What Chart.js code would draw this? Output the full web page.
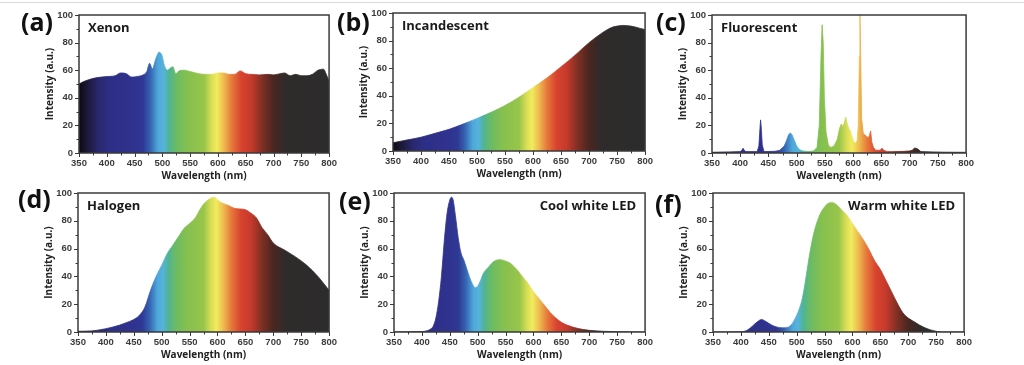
<!DOCTYPE html>
<html>
<head>
<meta charset="utf-8">
<script src="https://cdn.jsdelivr.net/npm/chart.js@4.4.1/dist/chart.umd.min.js"></script>
<style>
  body { margin: 0; background: #fff; width: 1024px; height: 365px; overflow: hidden; position: relative; }
  .topline { position: absolute; left: 0; top: 2px; width: 1024px; height: 1px; background: #d9d9d9; }
  .panel { position: absolute; }
  .letter { position: absolute; font: bold 25px "Open Sans", sans-serif; line-height: 1; color: #111; }
</style>
</head>
<body>
<div class="topline"></div>

<script>
// wavelengths (nm) and intensities (a.u.)
const xenonNm = [350,360,375,390,400,415,425,435,445,455,465,472,477,482,488,494,499,504,509,514,519,524,530,540,550,560,575,590,600,610,620,630,640,650,660,675,690,700,710,720,730,740,750,760,770,780,790,795,800];
const xenonVal = [50,52,54,55,55.4,56,58,57.5,55,55.5,56.5,59,65,61,68,73,71,63,60,61.5,62.5,57.5,59.5,60,59,58,57,57,58,58,57,57,59.5,57.5,57,56.6,57,56.6,57.3,58,56,57,56,56,57,60,60.7,57,52];

const incandNm = [350,375,400,425,450,475,500,525,550,575,600,625,650,675,700,725,740,750,760,775,790,800];
const incandVal = [6,8,10,12.8,15.7,19.5,23.6,28,33,39,46,53,61,69.4,78.5,86,89.5,90.5,91,90.5,89,88];

const fluorNm = [350,380,400,403,405,407,410,430,433,435,436,437,439,442,460,465,470,478,482,486,489,492,496,500,505,510,520,530,536,540,543,545,547,549,552,556,560,566,572,576,579,582,585,587,589,592,595,598,601,604,607,609,611,612,613,615,618,621,624,627,629,631,633,636,640,648,651,654,660,670,690,700,705,708,711,714,720,740,760,800];
const fluorVal = [0.5,0.8,1,2,3.5,2,1,1,5,18,24,20,6,1,1.2,1.5,2,5,9,13.5,14.5,13,9,5,2.5,1.5,1,1.5,4,20,70,93,80,40,15,6,4,5,10,18,21,19,23,26,22,18,16,12,8,7,9,20,70,100,80,25,14,13,12,11,13,16,8,4,2,2,3.5,2,1,1,1.2,1.5,2,3.5,3.5,3,1,0.8,0.6,0.5];

const halogenNm = [350,375,400,425,435,450,460,470,480,490,500,510,520,530,540,550,560,570,580,590,595,600,610,620,630,640,650,660,670,680,690,700,720,740,760,780,800];
const halogenVal = [0.5,0.8,2.4,5,6.5,9,12,18,30,40,48,56.5,62.5,68.5,74.5,78,82,89,94,96.5,97,95,92.5,91,89,88.5,88,85.5,82,75,70,64,59,54,48,40,30];

const coolNm = [350,400,410,415,420,425,430,435,440,445,450,453,456,460,465,470,475,480,485,490,495,500,505,510,520,530,540,550,560,570,580,590,600,610,620,630,640,650,660,680,700,725,750,800];
const coolVal = [0,0.3,1,2,4,10,22,40,65,85,95,97,95,84,68,57,52,46,40,35,32,33,37,42,47,51,52,51,49,45,40,35,29,24,19,14,10,7,5,2.5,1.2,0.5,0.2,0];

const warmNm = [350,400,410,420,430,437,445,455,465,475,485,490,495,500,505,510,515,520,525,530,540,550,560,565,570,580,590,600,610,620,630,640,650,660,670,680,690,700,710,720,730,740,750,760,800];
const warmVal = [0,0.2,1,4,7.5,9,7.5,5,3.5,3,3.5,5,8,12,17,24,35,48,60,70,83,90,93,93,92,88,84,78,72,66,59,51,45,37,29,21,14,10,7.5,5,3,1.5,0.5,0,0];

const xTicks = [350, 800, 25];   // min, max, step (labels every 50)
const yTicks = [0, 100, 10];     // min, max, step (labels every 20)

// colour of the visible spectrum by wavelength
const spectrumStops = [
  [350,'#0c0a14'],[365,'#1c1838'],[385,'#29286e'],[405,'#2d2e86'],[440,'#2f318c'],[465,'#2f3795'],
  [478,'#3462b0'],[492,'#4ea6da'],[502,'#56b3dc'],[512,'#4fb493'],[525,'#6bbb63'],[545,'#85c04f'],
  [575,'#98c54a'],[588,'#d6dd55'],[598,'#f2eb5e'],[610,'#eebd50'],[625,'#e6783b'],[642,'#d8432f'],
  [660,'#c53a2b'],[680,'#7f2f24'],[700,'#4a2620'],[722,'#2f2b2b'],[800,'#2c2c2c']
];

const panels = [
  { letter: '(a)', lx: 21,  ly: 9,   L: 79,  R: 332, T: 15,  B: 153, nm: xenonNm,   val: xenonVal,   tag: 'Xenon',          align: 'left',  smooth: true },
  { letter: '(b)', lx: 337, ly: 9,   L: 393, R: 648, T: 13,  B: 151, nm: incandNm,  val: incandVal,  tag: 'Incandescent',   align: 'left',  smooth: true },
  { letter: '(c)', lx: 656, ly: 9,   L: 712, R: 969, T: 15,  B: 153, nm: fluorNm,   val: fluorVal,   tag: 'Fluorescent',    align: 'left',  smooth: false },
  { letter: '(d)', lx: 18,  ly: 186, L: 78,  R: 332, T: 193, B: 332, nm: halogenNm, val: halogenVal, tag: 'Halogen',        align: 'left',  smooth: true },
  { letter: '(e)', lx: 339, ly: 188, L: 394, R: 648, T: 193, B: 332, nm: coolNm,    val: coolVal,    tag: 'Cool white LED', align: 'right', smooth: true },
  { letter: '(f)', lx: 655, ly: 191, L: 713, R: 967, T: 193, B: 332, nm: warmNm,    val: warmVal,    tag: 'Warm white LED', align: 'right', smooth: true }
];

function spectrumFill(context) {
  const chart = context.chart;
  if (!chart.chartArea) return 'rgba(0,0,0,0)';
  const x = chart.scales.x;
  const g = chart.ctx.createLinearGradient(x.getPixelForValue(350), 0, x.getPixelForValue(800), 0);
  spectrumStops.forEach(s => g.addColorStop((s[0] - 350) / 450, s[1]));
  return g;
}

// box round the plot, outward major/minor ticks, and the lamp name
const decor = {
  id: 'decor',
  afterDraw(chart, args, opts) {
    const { ctx, chartArea: a } = chart;
    const x = chart.scales.x, y = chart.scales.y;
    ctx.save();
    ctx.strokeStyle = '#3a3a3a';
    ctx.lineWidth = 1;
    ctx.beginPath();
    x.ticks.forEach(t => {
      const px = Math.round(x.getPixelForValue(t.value)) + 0.5;
      const len = t.value % 50 === 0 ? 4 : 2.5;
      ctx.moveTo(px, a.bottom); ctx.lineTo(px, a.bottom + len);
    });
    y.ticks.forEach(t => {
      const py = Math.round(y.getPixelForValue(t.value)) + 0.5;
      const len = t.value % 20 === 0 ? 4 : 2.5;
      ctx.moveTo(a.left, py); ctx.lineTo(a.left - len, py);
    });
    ctx.stroke();
    ctx.lineWidth = 1.5;
    ctx.strokeRect(a.left, a.top, a.right - a.left, a.bottom - a.top);

    ctx.font = 'bold 13px "Open Sans"';
    ctx.fillStyle = '#1a1a1a';
    ctx.textBaseline = 'middle';
    ctx.textAlign = opts.align;
    ctx.fillText(opts.text, opts.align === 'left' ? a.left + 9 : a.right - 9, a.top + 13);
    ctx.restore();
  }
};

const tickFont = { family: 'Liberation Sans', size: 9.5, weight: 'bold' };
const titleFont = { family: 'Open Sans', size: 10, weight: 'bold' };

panels.forEach(p => {
  const box = document.createElement('div');
  box.className = 'panel';
  box.style.left = (p.L - 46) + 'px';
  box.style.top = (p.T - 12) + 'px';
  box.style.width = (p.R - p.L + 56) + 'px';
  box.style.height = (p.B - p.T + 46) + 'px';
  const cv = document.createElement('canvas');
  box.appendChild(cv);
  document.body.appendChild(box);

  const lab = document.createElement('div');
  lab.className = 'letter';
  lab.style.left = p.lx + 'px';
  lab.style.top = p.ly + 'px';
  lab.textContent = p.letter;
  document.body.appendChild(lab);

  new Chart(cv, {
    type: 'line',
    data: {
      datasets: [{
        data: p.nm.map((w, i) => ({ x: w, y: p.val[i] })),
        fill: 'origin',
        backgroundColor: spectrumFill,
        borderColor: spectrumFill,
        borderWidth: 0.8,
        pointRadius: 0,
        tension: p.smooth ? 0.4 : 0,
        cubicInterpolationMode: p.smooth ? 'monotone' : 'default'
      }]
    },
    plugins: [decor],
    options: {
      responsive: true,
      maintainAspectRatio: false,
      animation: false,
      layout: { padding: { top: 12, right: 10, left: 0, bottom: 0 } },
      plugins: {
        legend: { display: false },
        tooltip: { enabled: false },
        decor: { text: p.tag, align: p.align }
      },
      scales: {
        x: {
          type: 'linear',
          min: xTicks[0], max: xTicks[1],
          grid: { display: false, drawTicks: false },
          border: { display: false },
          ticks: {
            stepSize: xTicks[2], autoSkip: false, maxRotation: 0, padding: 5,
            color: '#3c3c3c', font: tickFont,
            callback: v => (v % 50 === 0 ? v : '')
          },
          title: { display: true, text: 'Wavelength (nm)', color: '#222', font: titleFont, padding: { top: 0, bottom: 5 } },
          afterFit(scale) { scale.height = 34; }
        },
        y: {
          min: yTicks[0], max: yTicks[1],
          grid: { display: false, drawTicks: false },
          border: { display: false },
          ticks: {
            stepSize: yTicks[2], autoSkip: false, padding: 6,
            color: '#3c3c3c', font: tickFont,
            callback: v => (v % 20 === 0 ? v : '')
          },
          title: { display: true, text: 'Intensity (a.u.)', color: '#222', font: titleFont, padding: { top: 11, bottom: 0 } },
          afterFit(scale) { scale.width = 46; }
        }
      }
    }
  });
});
</script>
</body>
</html>
